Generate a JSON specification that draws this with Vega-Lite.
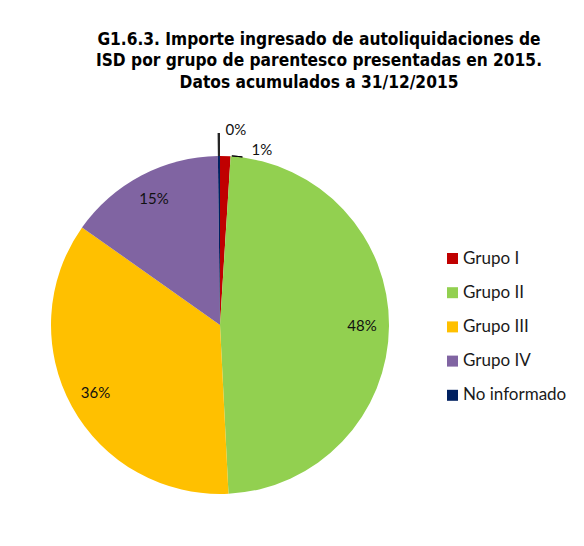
{
  "$schema": "https://vega.github.io/schema/vega-lite/v6.json",
  "width": 440,
  "height": 650,
  "autosize": "none",
  "padding": {"left": 0, "top": 0, "right": 144, "bottom": 0},
  "background": "white",
  "config": {"view": {"stroke": null}},
  "title": {
    "text": ["G1.6.3. Importe ingresado de autoliquidaciones de", "ISD por grupo de parentesco presentadas en 2015.", "Datos acumulados a 31/12/2015"],
    "font": "DejaVu Sans Condensed",
    "fontSize": 17.2,
    "fontWeight": "bold",
    "color": "#000000",
    "lineHeight": 21.5,
    "anchor": "middle",
    "dx": 99,
    "offset": -91,
    "baseline": "top"
  },
  "data": {
    "values": [
      {"grupo": "Grupo I", "valor": 0.010, "orden": 1},
      {"grupo": "Grupo II", "valor": 0.482, "orden": 2},
      {"grupo": "Grupo III", "valor": 0.356, "orden": 3},
      {"grupo": "Grupo IV", "valor": 0.150, "orden": 4},
      {"grupo": "No informado", "valor": 0.002, "orden": 5}
    ]
  },
  "encoding": {
    "theta": {"field": "valor", "type": "quantitative", "stack": true},
    "order": {"field": "orden", "type": "quantitative"}
  },
  "layer": [
    {
      "mark": {"type": "arc", "outerRadius": 169},
      "encoding": {
        "color": {
          "field": "grupo",
          "type": "nominal",
          "scale": {
            "domain": ["Grupo I", "Grupo II", "Grupo III", "Grupo IV", "No informado"],
            "range": ["#C00000", "#92D050", "#FFC000", "#8064A2", "#002060"]
          },
          "legend": {
            "title": null,
            "orient": "none",
            "legendX": 444,
            "legendY": 250,
            "symbolType": "square",
            "symbolSize": 121,
            "symbolStrokeWidth": 0,
            "labelFont": "Lato",
            "labelFontSize": 17,
            "labelColor": "#1a1a1a",
            "labelOffset": 2,
            "rowPadding": 16.2,
            "padding": 0
          }
        }
      }
    },
    {
      "mark": {"type": "arc", "radius": 169, "radius2": 192, "fill": "#000000", "stroke": null},
      "encoding": {
        "opacity": {"condition": {"test": "datum.grupo === 'No informado'", "value": 0.85}, "value": 0}
      }
    },
    {
      "mark": {"type": "arc", "radius": 169.5, "radius2": 169.5, "thetaOffset": 0.07, "theta2Offset": 0.094, "fill": null, "filled": false, "stroke": "#000000", "strokeWidth": 1},
      "encoding": {
        "opacity": {"condition": {"test": "datum.grupo === 'Grupo I'", "value": 1}, "value": 0}
      }
    },
    {
      "mark": {"type": "text", "radius": 142, "font": "Lato", "fontSize": 15, "color": "#111111"},
      "encoding": {
        "text": {"condition": {"test": "datum.valor >= 0.05", "field": "valor", "type": "quantitative", "format": ".0%"}, "value": ""}
      }
    },
    {
      "mark": {"type": "text", "radius": 185, "dx": 36, "dy": 10, "font": "Lato", "fontSize": 15, "color": "#111111"},
      "encoding": {
        "text": {"condition": {"test": "datum.grupo === 'Grupo I'", "field": "valor", "type": "quantitative", "format": ".0%"}, "value": ""}
      }
    },
    {
      "mark": {"type": "text", "radius": 185, "dx": 17, "dy": -10, "font": "Lato", "fontSize": 15, "color": "#111111"},
      "encoding": {
        "text": {"condition": {"test": "datum.grupo === 'No informado'", "field": "valor", "type": "quantitative", "format": ".0%"}, "value": ""}
      }
    }
  ]
}
